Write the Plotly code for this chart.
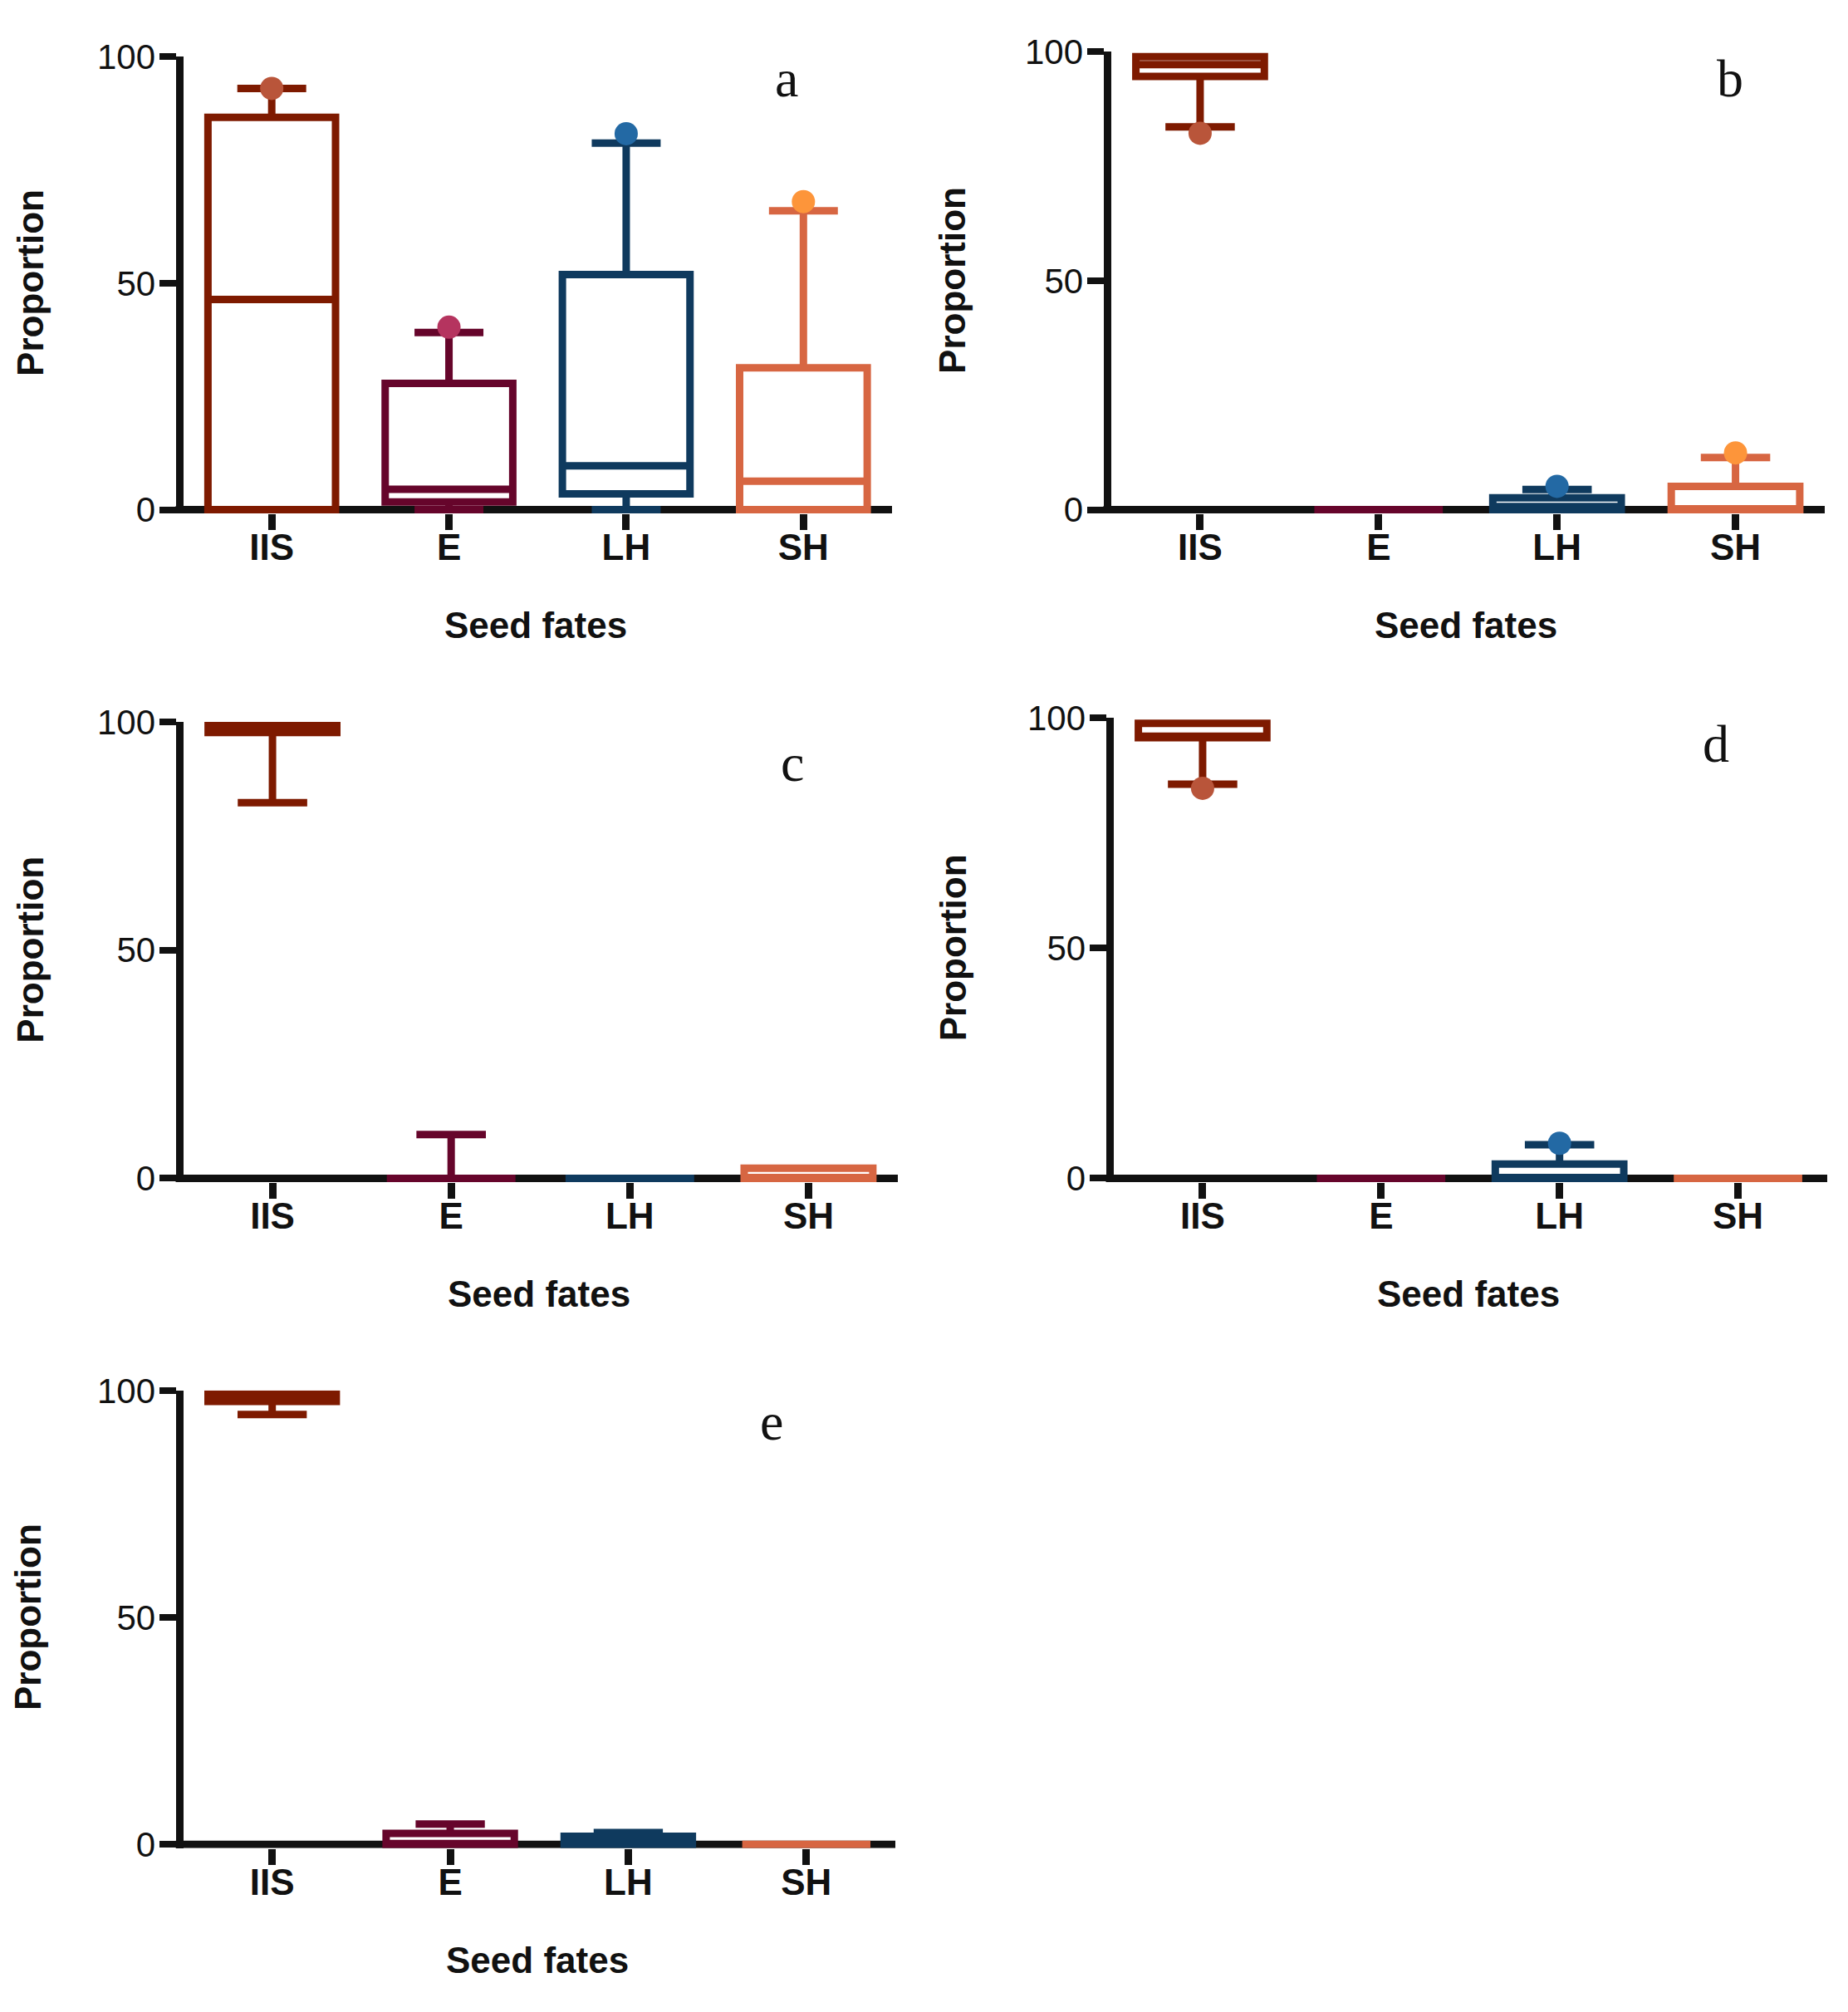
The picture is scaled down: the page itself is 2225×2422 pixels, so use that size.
import plotly.graph_objects as go

W, H = 2225, 2422

categories = ["IIS", "E", "LH", "SH"]
box_colors = ["#7E1A00", "#66052B", "#0F3A5E", "#D76642"]
dot_colors = ["#B9553A", "#B5345F", "#2369A4", "#FD953A"]
y_ticks = [0, 50, 100]

# panel a
a_q1 = [0.0, 1.7, 3.5, 0.0]
a_median = [46.4, 4.5, 9.7, 6.3]
a_q3 = [86.6, 27.9, 51.9, 31.3]
a_lower = [0.0, 0.0, 0.0, 0.0]
a_upper = [93.0, 39.1, 80.9, 66.0]
a_points = [93.0, 40.3, 83.0, 68.0]

# panel b
b_q1 = [94.6, 0.0, 0.0, 0.0]
b_median = [97.2, 0.0, 0.7, 0.0]
b_q3 = [98.9, 0.0, 2.6, 5.1]
b_lower = [83.6, 0.0, 0.0, 0.0]
b_upper = [98.9, 0.0, 4.4, 11.4]
b_points = [82.2, None, 5.1, 12.4]

# panel c
c_q1 = [97.7, 0.0, 0.0, 0.0]
c_median = [98.0, 0.0, 0.0, 0.0]
c_q3 = [99.5, 0.0, 0.0, 2.2]
c_lower = [82.3, 0.0, 0.0, 0.0]
c_upper = [99.5, 9.6, 0.0, 2.2]
c_points = [None, None, None, None]

# panel d
d_q1 = [95.7, 0.0, 0.0, 0.0]
d_median = [96.0, 0.0, 0.0, 0.0]
d_q3 = [98.8, 0.0, 3.1, 0.0]
d_lower = [85.6, 0.0, 0.0, 0.0]
d_upper = [98.8, 0.0, 7.3, 0.0]
d_points = [84.7, None, 7.6, None]

# panel e
e_q1 = [97.6, 0.0, 0.0, 0.0]
e_median = [97.8, 0.0, 0.8, 0.0]
e_q3 = [99.2, 2.4, 1.8, 0.0]
e_lower = [94.7, 0.0, 0.0, 0.0]
e_upper = [99.2, 4.5, 2.6, 0.0]
e_points = [None, None, None, None]

panel_letters = ["a", "b", "c", "d", "e"]
x_title = "Seed fates"
y_title = "Proportion"

panels = [
    (a_q1, a_median, a_q3, a_lower, a_upper, a_points),
    (b_q1, b_median, b_q3, b_lower, b_upper, b_points),
    (c_q1, c_median, c_q3, c_lower, c_upper, c_points),
    (d_q1, d_median, d_q3, d_lower, d_upper, d_points),
    (e_q1, e_median, e_q3, e_lower, e_upper, e_points),
]

# pixel geometry: y-axis line centre, x-axis right end, y=100 level, y=0 level
geom = [
    (216, 1074, 46, 601),
    (1333, 2197, 40, 601),
    (216, 1081, 861, 1420),
    (1336, 2200, 856, 1420),
    (216, 1078, 1680, 2236),
]
letter_pos = [(947, 73), (2083, 73), (954, 911), (2066, 888), (929, 1718)]
xtitle_y = [742, 742, 1562, 1562, 2378]
ytitle_x = [37, 1147, 37, 1147, 33]

AXW = 9
YMIN = -0.85
INK = "#111111"
fig = go.Figure()
layout = dict(
    width=W, height=H, autosize=False,
    margin=dict(l=0, r=0, t=0, b=0),
    paper_bgcolor="white", plot_bgcolor="white",
    showlegend=False, annotations=[], shapes=[],
)

for i, (q1, med, q3, lo, up, pts) in enumerate(panels):
    n = "" if i == 0 else str(i + 1)
    xa, ya = "x" + n, "y" + n
    for j, cat in enumerate(categories):
        fig.add_trace(go.Box(
            x=[cat], q1=[q1[j]], median=[med[j]], q3=[q3[j]],
            lowerfence=[lo[j]], upperfence=[up[j]],
            boxpoints=False, fillcolor="white",
            line=dict(color=box_colors[j], width=9),
            width=0.72, whiskerwidth=0.54,
            xaxis=xa, yaxis=ya, hoverinfo="skip",
        ))
    for j, cat in enumerate(categories):
        if pts[j] is not None:
            fig.add_trace(go.Scatter(
                x=[cat], y=[pts[j]], mode="markers",
                marker=dict(color=dot_colors[j], size=28, line=dict(width=0)),
                xaxis=xa, yaxis=ya, hoverinfo="skip",
            ))
    L, R, T, B = geom[i]
    ppu = (B - T) / 100.0
    bottom_px = B - YMIN * ppu
    layout["xaxis" + n] = dict(
        domain=[(L + AXW / 2) / W, R / W], anchor=ya,
        type="category", categoryorder="array", categoryarray=categories,
        range=[-0.5, 3.5], showline=False,
        ticks="outside", ticklen=19, tickwidth=9, tickcolor=INK,
        ticklabelstandoff=-17,
        showgrid=False, zeroline=False,
        tickfont=dict(family="Liberation Sans, Arial, sans-serif",
                      size=44, color=INK, weight="bold"),
    )
    layout["yaxis" + n] = dict(
        domain=[1 - bottom_px / H, 1 - T / H], anchor=xa,
        range=[YMIN, 100], tickvals=y_ticks, showline=True, linewidth=AXW,
        linecolor=INK, ticks="outside", ticklen=20, tickwidth=8,
        tickcolor=INK, showgrid=False, zeroline=False,
        ticklabelstandoff=-4,
        tickfont=dict(family="Liberation Sans Narrow, Liberation Sans, Arial, sans-serif",
                      size=42, color=INK),
    )
    # x-axis baseline at y = 0 drawn beneath the boxes
    layout["shapes"].append(dict(
        type="line", xref="paper", yref=ya, x0=(L - AXW / 2) / W, x1=R / W,
        y0=0, y1=0, line=dict(color=INK, width=AXW), layer="below",
    ))
    lx, ly = letter_pos[i]
    layout["annotations"] += [
        dict(text=panel_letters[i], x=lx / W, y=1 - ly / H, xref="paper", yref="paper",
             showarrow=False, xanchor="center", yanchor="middle",
             font=dict(family="Liberation Serif, Times New Roman, serif", size=64, color=INK)),
        dict(text=x_title, x=(L + R) / 2 / W, y=1 - xtitle_y[i] / H, xref="paper", yref="paper",
             showarrow=False, xanchor="center", yanchor="middle",
             font=dict(family="Liberation Sans, Arial, sans-serif", size=44, color=INK, weight="bold")),
        dict(text=y_title, x=ytitle_x[i] / W, y=1 - (T + B) / 2 / H, xref="paper", yref="paper",
             showarrow=False, xanchor="center", yanchor="middle", textangle=-90,
             font=dict(family="Liberation Sans, Arial, sans-serif", size=44, color=INK, weight="bold")),
    ]

fig.update_layout(**layout)
fig.write_html("out.html", config={"displayModeBar": False},
               post_script="document.body.style.margin='0';")
